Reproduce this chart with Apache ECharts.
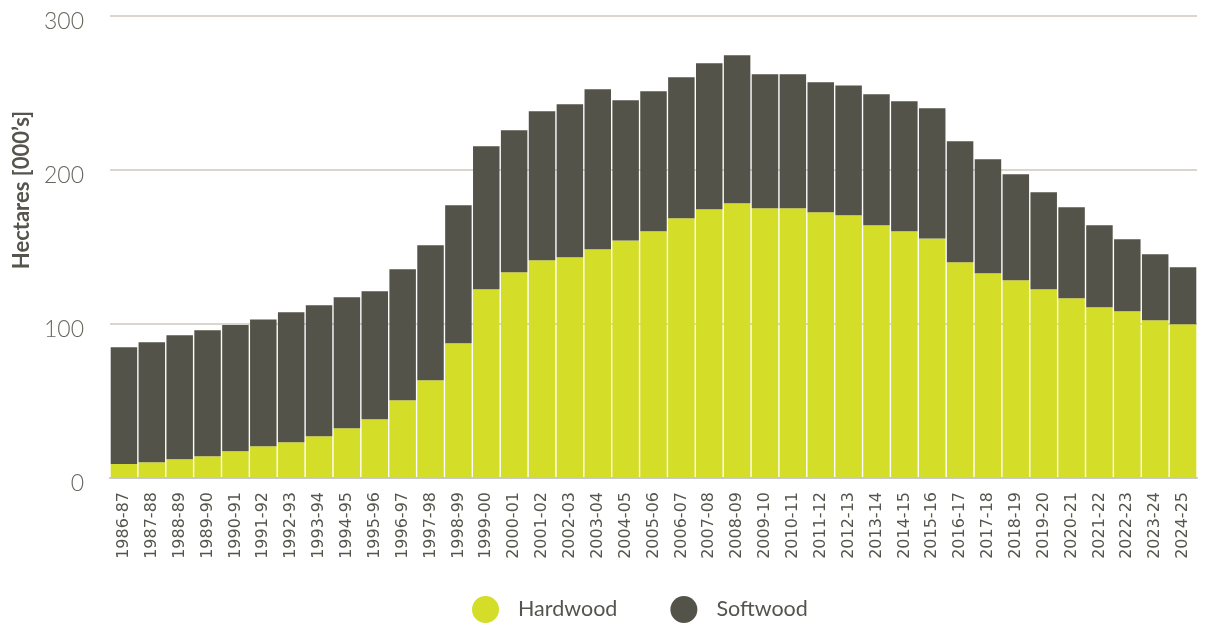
<!DOCTYPE html>
<html>
<head>
<meta charset="utf-8">
<script src="https://cdn.jsdelivr.net/npm/echarts@6/dist/echarts.min.js"></script>
<style>
html,body{margin:0;padding:0;background:#fff;}
#chart{width:1210px;height:623px;}
</style>
</head>
<body>
<div id="chart"></div>
<script>
const categories = ['1986-87','1987-88','1988-89','1989-90','1990-91','1991-92','1992-93','1993-94','1994-95','1995-96','1996-97','1997-98','1998-99','1999-00','2000-01','2001-02','2002-03','2003-04','2004-05','2005-06','2006-07','2007-08','2008-09','2009-10','2010-11','2011-12','2012-13','2013-14','2014-15','2015-16','2016-17','2017-18','2018-19','2019-20','2020-21','2021-22','2022-23','2023-24','2024-25'];
const hardwood = [9.1,10.2,12.1,14.1,17.3,20.6,23.2,27.1,32.3,38.1,50.5,63.4,87.5,122.5,133.6,141.4,143.3,148.5,154.3,160.2,168.6,174.5,178.4,175.1,175.1,172.5,170.6,164.1,160.2,155.6,140.1,133.0,128.4,122.5,116.7,110.8,108.2,102.4,99.8];
const totals = [84.9,88.1,92.7,95.9,99.4,103.0,107.6,112.1,117.3,121.2,135.5,151.1,177.1,215.4,225.8,238.1,242.7,252.4,245.3,251.1,260.2,269.3,274.5,262.1,262.1,257.0,254.9,249.2,244.6,240.1,218.6,206.9,197.2,185.5,175.8,164.1,155.0,145.3,136.8];
const softwood = totals.map((t, i) => +(t - hardwood[i]).toFixed(1));
const yTicks = [0, 100, 200, 300];

const chart = echarts.init(document.getElementById('chart'));
chart.setOption({
  animation: false,
  backgroundColor: '#fff',
  grid: { left: 110, right: 13, top: 16, bottom: 145, containLabel: false },
  graphic: [{
    type: 'text',
    x: 22, y: 190,
    rotation: Math.PI / 2,
    style: {
      text: "Hectares [000’s]",
      font: 'bold 22px Lato, "Open Sans", sans-serif',
      fill: '#55554d',
      align: 'center',
      verticalAlign: 'middle'
    }
  }],
  legend: {
    bottom: 0,
    left: 472,
    padding: 0,
    itemGap: 53,
    itemWidth: 27,
    itemHeight: 27,
    icon: 'circle',
    textStyle: { fontFamily: 'Lato, sans-serif', fontSize: 21.5, color: '#55554d', padding: [0, 0, 0, 14] },
    data: ['Hardwood', 'Softwood']
  },
  xAxis: {
    type: 'category',
    data: categories,
    axisLine: { lineStyle: { color: '#c8c8c8', width: 2 } },
    axisTick: { show: false },
    axisLabel: {
      rotate: 90,
      interval: 0,
      margin: 14,
      fontSize: 16,
      fontFamily: '"DejaVu Sans", sans-serif',
      color: '#55554d'
    }
  },
  yAxis: {
    type: 'value',
    min: 0, max: 300, interval: 100,
    axisLine: { show: false },
    axisTick: { show: false },
    splitLine: { lineStyle: { color: '#cfc7be', width: 1.5 } },
    axisLabel: {
      margin: 26,
      fontSize: 23,
      fontFamily: 'Lato, sans-serif',
      fontWeight: 300,
      color: '#66665e',
      verticalAlign: 'top',
      lineHeight: 12,
      formatter: v => yTicks.includes(v) ? String(v) : ''
    }
  },
  series: [
    {
      name: 'Hardwood', type: 'bar', stack: 'total',
      data: hardwood, barCategoryGap: '5%',
      itemStyle: { color: '#d4dd27' }
    },
    {
      name: 'Softwood', type: 'bar', stack: 'total',
      data: softwood, barCategoryGap: '5%',
      itemStyle: { color: '#53534a' }
    }
  ]
});
</script>
</body>
</html>
